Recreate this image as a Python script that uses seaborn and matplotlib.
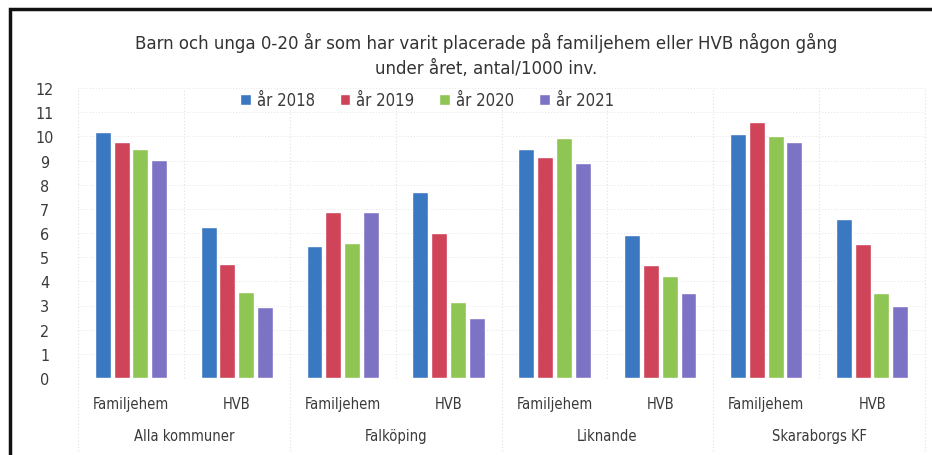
import pandas as pd
import matplotlib
matplotlib.use("Agg")
import matplotlib.pyplot as plt
import seaborn as sns
from matplotlib.patches import Rectangle

# ---- data ----
regions = ["Alla kommuner", "Falköping", "Liknande", "Skaraborgs KF"]
types = ["Familjehem", "HVB"]
years = ["år 2018", "år 2019", "år 2020", "år 2021"]

# order: region x type, values per year
v2018 = [10.2, 6.23, 5.45, 7.68, 9.47, 5.92, 10.11, 6.58]
v2019 = [9.75, 4.72, 6.86, 6.0, 9.13, 4.68, 10.58, 5.54]
v2020 = [9.47, 3.57, 5.59, 3.16, 9.92, 4.21, 10.03, 3.5]
v2021 = [9.03, 2.92, 6.88, 2.47, 8.9, 3.52, 9.77, 2.99]

colors = ["#3a78c2", "#cf4459", "#8fc552", "#7d73c5"]

slots = [f"{r}|{t}" for r in regions for t in types]
rows = []
for year, vals in zip(years, [v2018, v2019, v2020, v2021]):
    for slot, v in zip(slots, vals):
        rows.append({"slot": slot, "year": year, "value": v})
df = pd.DataFrame(rows)

sns.set_style("white")
plt.rcParams["font.family"] = ["DejaVu Sans"]
plt.rcParams["font.stretch"] = "condensed"

fig = plt.figure(figsize=(9.32, 4.56), dpi=100)
ax = fig.add_axes([78 / 932, 77 / 456, 847 / 932, 290 / 456])

sns.barplot(data=df, x="slot", y="value", hue="year", order=slots,
            hue_order=years, palette=colors, width=0.71, gap=0.15,
            saturation=1, ax=ax, legend=True)

ax.set_ylim(0, 12)
ax.set_xlim(-0.5, len(slots) - 0.5)
ax.set_yticks(range(0, 13))
ax.set_xlabel("")
ax.set_ylabel("")
ax.set_xticks(range(len(slots)))
ax.set_xticklabels([s.split("|")[1] for s in slots])
ax.tick_params(axis="both", length=0, colors="#3a3a3a")
ax.tick_params(axis="x", pad=13, labelsize=10.5)
ax.tick_params(axis="y", pad=24, labelsize=11.5)
for lbl in ax.get_yticklabels():
    lbl.set_horizontalalignment("center")

for sp in ax.spines.values():
    sp.set_visible(False)

# faint grid
for y in range(1, 13):
    ax.axhline(y, color="#e4e4e4", lw=0.7, ls=(0, (1, 2)), zorder=0)
for i in range(len(slots) + 1):
    x = i - 0.5
    major = i % 2 == 0
    ax.plot([x, x], [0, 1] if not major else [-0.25, 1], transform=ax.get_xaxis_transform(),
            color="#e0e0e0", lw=0.8, ls=(0, (1, 2)), clip_on=False, zorder=0)

# region labels
for k, r in enumerate(regions):
    ax.text(2 * k + 0.5, -0.197, r, transform=ax.get_xaxis_transform(),
            ha="center", va="center", fontsize=10.5, color="#3a3a3a")

ax.legend(loc="upper center", bbox_to_anchor=(0.412, 1.04), ncol=4, frameon=False,
          fontsize=12, handlelength=0.65, handleheight=0.65, handletextpad=0.35,
          columnspacing=1.5, labelcolor="#3a3a3a")

fig.text(0.522, 0.905, "Barn och unga 0-20 år som har varit placerade på familjehem eller HVB någon gång",
         ha="center", va="center", fontsize=13.3, color="#333333")
fig.text(0.522, 0.848, "under året, antal/1000 inv.",
         ha="center", va="center", fontsize=13.3, color="#333333")

# scanned frame (left and top edges)
fig.patches.append(Rectangle((10 / 932, -0.1), 1.1, (446 / 456) + 0.1, transform=fig.transFigure,
                             fill=False, ec="#111111", lw=2.5))

fig.savefig("out.png", dpi=100, facecolor="white")
